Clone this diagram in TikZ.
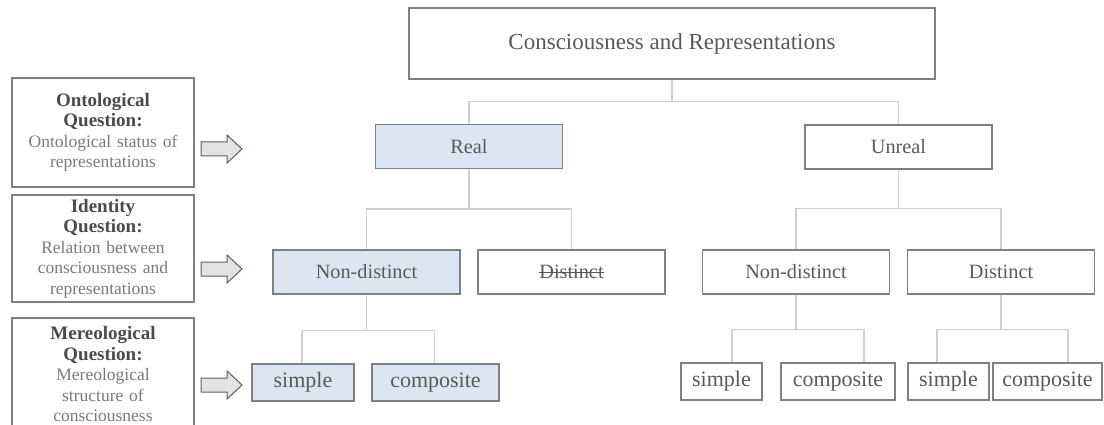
\documentclass[tikz,border=0pt]{standalone}
\usepackage{fontspec}
\setmainfont{Liberation Serif}
\usepackage{xcolor}
\usepackage{tikz}

\definecolor{textgray}{HTML}{595959}
\definecolor{boxgray}{HTML}{808080}
\definecolor{linegray}{HTML}{CFCFCF}
\definecolor{chosenblue}{HTML}{DCE6F2}
\definecolor{qtext}{HTML}{7A7A7A}
\definecolor{qbold}{HTML}{4A4A4A}
\definecolor{arrowfill}{HTML}{E3E3E3}
\definecolor{arrowedge}{HTML}{55606E}

\newcommand{\qhead}[1]{{\fontsize{19}{20.5}\selectfont\bfseries\color{qbold}#1}}
\newcommand{\struck}[1]{\sbox0{#1}\rlap{\rule[0.3em]{\wd0}{0.7pt}}\usebox0}

\begin{document}
\begin{tikzpicture}[x=1pt, y=-1pt]
        \tikzset{
            top_node/.style={draw=boxgray, line width=1.3pt, text=textgray, inner sep=0pt,
                minimum width=526pt, minimum height=71pt, font=\fontsize{23}{27}\selectfont},
            mid_node/.style={draw=boxgray, line width=1.3pt, text=textgray, inner sep=0pt,
                minimum width=187pt, minimum height=44pt, font=\fontsize{20.3}{24}\selectfont},
            leaf/.style={draw=boxgray, line width=1.3pt, text=textgray, inner sep=0pt,
                minimum height=37pt, font=\fontsize{22}{26}\selectfont},
            chosen/.style={fill=chosenblue},
            question/.style={draw=boxgray, line width=1.3pt, text=qtext, inner sep=0pt,
                align=center, text width=182pt, font=\fontsize{17.5}{20.5}\selectfont},
            branch/.style={draw=linegray, line width=1.3pt},
            qarrow/.style={draw=arrowedge, fill=arrowfill, line width=1pt, line join=miter}
        }
        \clip (0,0) rectangle (1104,425);
        % questions on the left
        \node[question, minimum height=109pt] (q1) at (103,132.5)
            {\qhead{Ontological}\\\qhead{Question:}\\Ontological status of\\representations};
        \node[question, minimum height=107pt] (q2) at (103,248.5)
            {\qhead{Identity}\\\qhead{Question:}\\Relation between\\consciousness and\\representations};
        \node[question, minimum height=112pt] (q3) at (103,374)
            {\qhead{Mereological}\\\qhead{Question:}\\Mereological\\structure of\\consciousness};
        \foreach \y in {149,269,385}
            \draw[qarrow] (201,\y-7) -- (227,\y-7) -- (227,\y-14) -- (242,\y)
                -- (227,\y+14) -- (227,\y+7) -- (201,\y+7) -- cycle;
        % tree
        \node[top_node] (root) at (672,43.5) {Consciousness and Representations};
        \node[mid_node, chosen] (real) at (469,146.5) {Real};
        \node[mid_node] (unreal) at (898.5,147) {Unreal};
        \node[mid_node, chosen] (realnd) at (366.5,272) {Non-distinct};
        \node[mid_node] (reald) at (571.5,272) {\struck{Distinct}};
        \node[mid_node] (unrealnd) at (796,272) {Non-distinct};
        \node[mid_node] (unreald) at (1001,272) {Distinct};
        \node[leaf, chosen, minimum width=102pt] (rsimple) at (303,382.5) {simple};
        \node[leaf, chosen, minimum width=127pt] (rcomp) at (435.5,382.5) {composite};
        \node[leaf, minimum width=81pt] (usimple) at (721.5,381.5) {simple};
        \node[leaf, minimum width=114pt] (ucomp) at (838,381.5) {composite};
        \node[leaf, minimum width=81pt] (dsimple) at (948.5,381.5) {simple};
        \node[leaf, minimum width=109pt] (dcomp) at (1047.5,381.5) {composite};
        \draw[branch] (root.south) -- ++(0,22) -| (real.north);
        \draw[branch] (root.south) -- ++(0,22) -| (unreal.north);
        \draw[branch] (real.south) -- ++(0,40) -| (realnd.north);
        \draw[branch] (real.south) -- ++(0,40) -| (reald.north);
        \draw[branch] (unreal.south) -- ++(0,39) -| (unrealnd.north);
        \draw[branch] (unreal.south) -- ++(0,39) -| (unreald.north);
        \draw[branch] (realnd.south) -- ++(0,36) -| ([xshift=-1pt]rsimple.north);
        \draw[branch] (realnd.south) -- ++(0,36) -| ([xshift=-1pt]rcomp.north);
        \draw[branch] (unrealnd.south) -- ++(0,35) -| ([xshift=10.5pt]usimple.north);
        \draw[branch] (unrealnd.south) -- ++(0,35) -| ([xshift=26pt]ucomp.north);
        \draw[branch] (unreald.south) -- ++(0,35) -| ([xshift=-11.5pt]dsimple.north);
        \draw[branch] (unreald.south) -- ++(0,35) -| ([xshift=20.5pt]dcomp.north);
    \end{tikzpicture}
\end{document}
